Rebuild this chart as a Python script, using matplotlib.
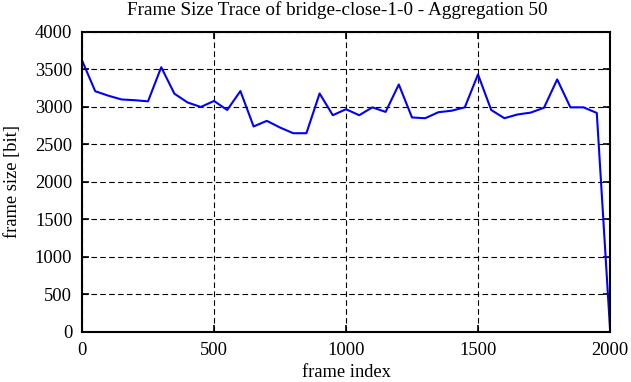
import matplotlib
matplotlib.use("Agg")
import matplotlib.pyplot as plt

# aggregated frame sizes, one value every 50 frames
frame_index = list(range(0, 2001, 50))
frame_size = [3620, 3210, 3150, 3100, 3090, 3075, 3530, 3177, 3060, 3000,
              3080, 2960, 3212, 2740, 2815, 2726, 2650, 2650, 3180, 2890,
              2970, 2890, 2995, 2934, 3300, 2860, 2850, 2930, 2950, 2995,
              3434, 2960, 2850, 2900, 2925, 2990, 3367, 2995, 2995, 2920,
              50]

plt.rcParams['font.family'] = ['Liberation Serif', 'DejaVu Serif']
fs = 13.3

fig = plt.figure(figsize=(6.31, 3.82), dpi=100)
ax = fig.add_axes([0.130, 0.131, 0.8367, 0.7853])

ax.plot(frame_index, frame_size, color='#0000ff', linewidth=1.5)

ax.set_xlim(0, 2000)
ax.set_ylim(0, 4000)
ax.set_xticks(range(0, 2001, 500))
ax.set_yticks(range(0, 4001, 500))

ax.grid(True, color='black', linestyle=(0, (5, 3)), linewidth=0.8)
ax.tick_params(direction='in', top=True, right=True, length=5, width=1.2,
               labelsize=fs, pad=7)
for s in ax.spines.values():
    s.set_linewidth(1.5)

ax.set_title('Frame Size Trace of bridge-close-1-0 - Aggregation 50',
             fontsize=13.8, pad=12, x=0.483)
ax.set_xlabel('frame index', fontsize=fs, labelpad=4)
ax.set_ylabel('frame size [bit]', fontsize=fs, labelpad=10)

fig.savefig('out.png', dpi=100)
